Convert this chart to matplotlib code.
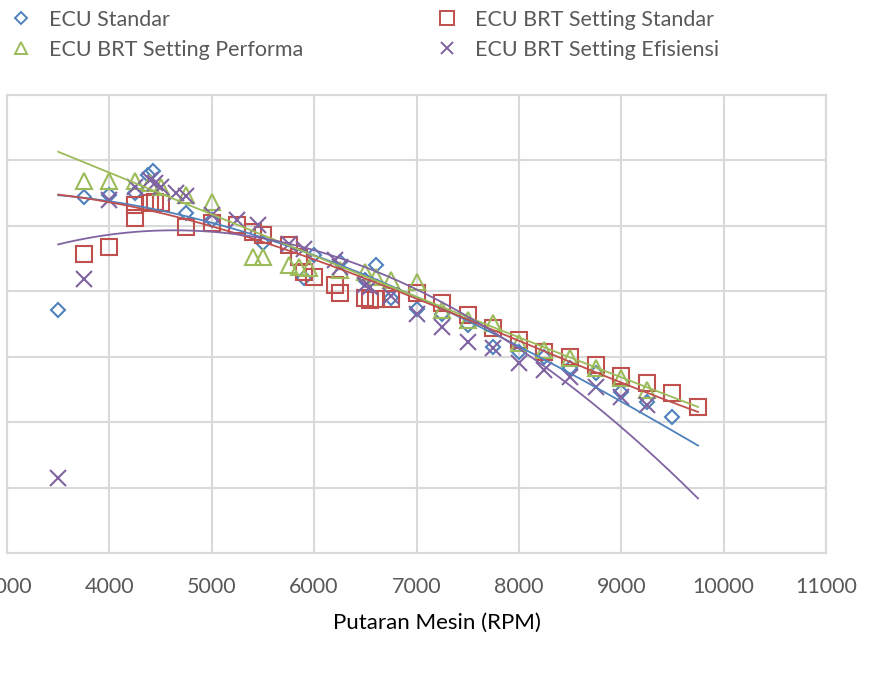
import numpy as np
import matplotlib
matplotlib.use("Agg")
import matplotlib.pyplot as plt
from matplotlib.lines import Line2D

# ------------------- Data -------------------
std_rpm = [3500, 3750, 4000, 4250, 4380, 4430, 4750, 5000, 5500, 5900, 6000, 6250,
           6500, 6600, 6750, 7000, 7250, 7500, 7750, 8000, 8250, 8500, 8750, 9000,
           9250, 9500]
std_val = [7.43, 10.88, 10.94, 11.0, 11.55, 11.68, 10.39, 10.18, 9.48, 8.4, 9.1, 8.9,
           8.35, 8.8, 7.8, 7.45, 7.3, 6.97, 6.3, 6.14, 6.0, 5.66, 5.5, 4.92,
           4.62, 4.16]

brt_std_rpm = [3750, 4000, 4250, 4250, 4400, 4450, 4500, 4750, 5000, 5250, 5400, 5500,
               5750, 5850, 5900, 6000, 6200, 6250, 6500, 6550, 6600, 6750, 7000, 7250,
               7500, 7750, 8000, 8250, 8500, 8750, 9000, 9250, 9500, 9750]
brt_std_val = [9.14, 9.35, 10.64, 10.24, 10.7, 10.72, 10.7, 9.97, 10.09, 10.03, 9.8, 9.72,
               9.4, 9.05, 8.6, 8.44, 8.19, 7.95, 7.8, 7.73, 7.75, 7.76, 7.95, 7.64,
               7.28, 6.88, 6.51, 6.14, 5.99, 5.75, 5.41, 5.2, 4.89, 4.46]

perf_rpm = [3750, 4000, 4250, 4400, 4500, 4750, 5000, 5400, 5500, 5750, 5850, 5950,
            6250, 6500, 6600, 6750, 7000, 7250, 7500, 7750, 8000, 8250, 8500, 8750,
            9000, 9250]
perf_val = [11.37, 11.37, 11.37, 11.3, 11.2, 10.94, 10.73, 9.05, 9.05, 8.8, 8.74, 8.7,
            8.65, 8.59, 8.44, 8.35, 8.28, 7.43, 7.12, 7.03, 6.42, 6.2, 5.96, 5.66,
            5.35, 4.98]

efi_rpm = [3500, 3750, 4000, 4250, 4400, 4450, 4500, 4650, 4750, 5000, 5250, 5450,
           5750, 5900, 6200, 6250, 6500, 6550, 6750, 7000, 7250, 7500, 7750, 8000,
           8250, 8500, 8750, 9000, 9250]
efi_val = [2.29, 8.38, 10.79, 11.19, 11.4, 11.3, 11.2, 11.0, 10.9, 10.33, 10.18, 10.03,
           9.45, 9.3, 8.96, 8.74, 8.19, 8.13, 7.85, 7.3, 6.91, 6.45, 6.27, 5.8,
           5.6, 5.38, 5.08, 4.77, 4.52]

# trendline values read at a few engine speeds
trend_rpm = [3500, 4500, 5500, 6500, 7500, 8500, 9750]
std_trend = [10.94, 10.42, 9.78, 8.35, 7.12, 5.53, 3.27]
brt_std_trend = [10.97, 10.33, 9.63, 8.28, 7.18, 5.84, 4.31]
perf_trend = [12.26, 11.0, 9.72, 8.44, 7.21, 5.99, 4.46]
efi_trend = [9.45, 9.81, 9.66, 8.71, 7.28, 5.07, 1.68]

labels = ["ECU Standar", "ECU BRT Setting Standar",
          "ECU BRT Setting Performa", "ECU BRT Setting Efisiensi"]
colors = ["#4F81BD", "#C0504D", "#9BBB59", "#8064A2"]
markers = ["D", "s", "^", "x"]
msizes = [7.5, 12, 11, 11]

xticks = [3000, 4000, 5000, 6000, 7000, 8000, 9000, 10000, 11000]

# ------------------- Chart -------------------
plt.rcParams['font.family'] = ['Lato', 'DejaVu Sans']

fig = plt.figure(figsize=(8.9, 6.75), dpi=100)
ax = fig.add_axes([7 / 890, 1 - 553 / 675, (826 - 7) / 890, (553 - 95) / 675])

series = [(std_rpm, std_val, std_trend),
          (brt_std_rpm, brt_std_val, brt_std_trend),
          (perf_rpm, perf_val, perf_trend),
          (efi_rpm, efi_val, efi_trend)]

for (xs, ys, tr), c, m, ms in zip(series, colors, markers, msizes):
    ax.plot(xs, ys, linestyle='none', marker=m, markersize=ms,
            markerfacecolor='none', markeredgecolor=c, markeredgewidth=1.5,
            zorder=3)

xs_fit = np.linspace(trend_rpm[0], trend_rpm[-1], 200)
for (xs, ys, tr), c in zip(series, colors):
    coef = np.polyfit(trend_rpm, tr, 3)
    ax.plot(xs_fit, np.polyval(coef, xs_fit), color=c, linewidth=1.3, zorder=4)

ax.set_xlim(3000, 11000)
ax.set_ylim(0, 14)
ax.set_xticks(xticks)
ax.set_xticklabels([str(t) for t in xticks], color='#595959', fontsize=15.5)
ax.set_yticks(np.arange(0, 15, 2))
ax.set_yticklabels([])
ax.tick_params(axis='both', length=0)
ax.tick_params(axis='x', pad=17)
ax.grid(True, color='#d9d9d9', linewidth=1.5)
ax.set_axisbelow(True)
for s in ax.spines.values():
    s.set_color('#d9d9d9')
    s.set_linewidth(1.5)

ax.set_xlabel("Putaran Mesin (RPM)", fontsize=16, color='black')
ax.xaxis.set_label_coords((437 - 7) / 819, -(613 - 553) / 458, transform=ax.transAxes)
ax.xaxis.label.set_va('top')

# legend: two columns at the top
handles = [Line2D([], [], linestyle='none', marker=m, markersize=ms * 0.85,
                  markerfacecolor='none', markeredgecolor=c, markeredgewidth=1.4)
           for c, m, ms in zip(colors, markers, msizes)]
leg_kw = dict(loc='upper left', frameon=False, fontsize=15.5, handlelength=0.9,
              handletextpad=0.85, borderpad=0, borderaxespad=0, labelspacing=0.45,
              labelcolor='#595959')
leg1 = fig.legend([handles[0], handles[2]], [labels[0], labels[2]],
                  bbox_to_anchor=(11 / 890, 1 - 10 / 675), **leg_kw)
leg2 = fig.legend([handles[1], handles[3]], [labels[1], labels[3]],
                  bbox_to_anchor=(437 / 890, 1 - 10 / 675), **leg_kw)

fig.savefig("out.png", dpi=100)
